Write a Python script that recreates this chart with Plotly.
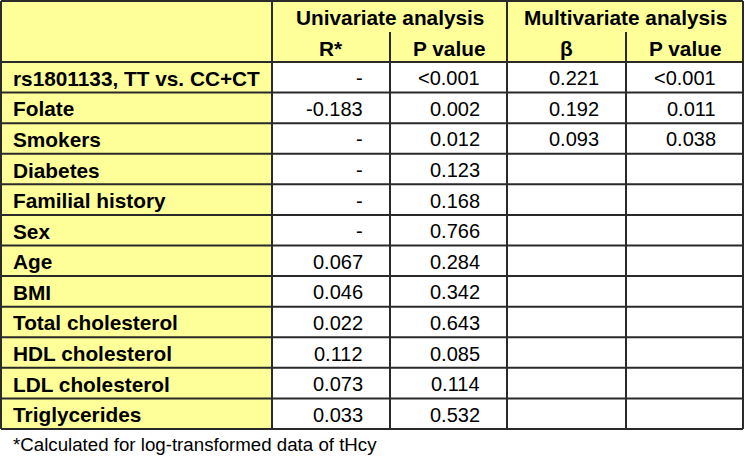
import plotly.graph_objects as go

# ---- data ----
variables = ["rs1801133, TT vs. CC+CT", "Folate", "Smokers", "Diabetes", "Familial history",
             "Sex", "Age", "BMI", "Total cholesterol", "HDL cholesterol", "LDL cholesterol",
             "Triglycerides"]
uni_r = ["-", "-0.183", "-", "-", "-", "-", "0.067", "0.046", "0.022", "0.112", "0.073", "0.033"]
uni_p = ["<0.001", "0.002", "0.012", "0.123", "0.168", "0.766", "0.284", "0.342", "0.643",
         "0.085", "0.114", "0.532"]
multi_beta = ["0.221", "0.192", "0.093", "", "", "", "", "", "", "", "", ""]
multi_p = ["<0.001", "0.011", "0.038", "", "", "", "", "", "", "", "", ""]
group_headers = ["Univariate analysis", "Multivariate analysis"]
sub_headers = ["R*", "P value", "β", "P value"]
footnote = "*Calculated for log-transformed data of tHcy"

# ---- layout geometry (pixel-like coordinates) ----
W, H = 745, 456
col_edges = [1, 272, 390, 507, 626, 743]
top, mid, data_top, bottom = 1, 32, 62, 429
n = len(variables)
row_h = (bottom - data_top) / n
row_edges = [data_top + i * row_h for i in range(n + 1)]

YELLOW = "#FFFF99"
LINE = "#2a2a2a"
FONT = "Liberation Sans, Arial, sans-serif"
FS = 20
FSB = 20.8
PAD = 25

fig = go.Figure()
fig.add_trace(go.Scatter(x=[0, W], y=[0, H], mode="markers", marker=dict(opacity=0),
                         hoverinfo="skip", showlegend=False))

shapes = []
# fills
shapes.append(dict(type="rect", x0=col_edges[0], x1=col_edges[-1], y0=top, y1=data_top,
                   fillcolor=YELLOW, line=dict(width=0), layer="below"))
shapes.append(dict(type="rect", x0=col_edges[0], x1=col_edges[1], y0=data_top, y1=bottom,
                   fillcolor=YELLOW, line=dict(width=0), layer="below"))
# horizontal lines
for y in [top] + row_edges:
    shapes.append(dict(type="line", x0=col_edges[0], x1=col_edges[-1], y0=y, y1=y,
                       line=dict(color=LINE, width=2)))
# vertical lines
for i, x in enumerate(col_edges):
    y0 = mid if i in (2, 4) else top
    shapes.append(dict(type="line", x0=x, x1=x, y0=y0, y1=bottom,
                       line=dict(color=LINE, width=2)))

ann = []
def txt(x, y, s, anchor, bold=False, size=FS):
    ann.append(dict(x=x, y=y, xref="x", yref="y", text=(f"<b>{s}</b>" if bold else s),
                    showarrow=False, xanchor=anchor, yanchor="middle",
                    font=dict(family=FONT, size=size, color="black")))

# group headers
for g, (a, b) in zip(group_headers, [(1, 3), (3, 5)]):
    txt((col_edges[a] + col_edges[b]) / 2, (top + mid) / 2 + 1, g, "center", True, FSB)
# sub headers
for j, s in enumerate(sub_headers):
    txt((col_edges[j + 1] + col_edges[j + 2]) / 2, (mid + data_top) / 2 + 1, s, "center", True, FSB)

# body
cols = [uni_r, uni_p, multi_beta, multi_p]
for i in range(n):
    yc = (row_edges[i] + row_edges[i + 1]) / 2 + 1
    txt(col_edges[0] + 10, yc, variables[i], "left", True, FSB)
    for j, col in enumerate(cols):
        if col[i]:
            txt(col_edges[j + 2] - PAD, yc, col[i], "right")

txt(11, 444, footnote, "left", False, 18.7)

fig.update_layout(
    width=W, height=H, margin=dict(l=0, r=0, t=0, b=0),
    paper_bgcolor="white", plot_bgcolor="white",
    xaxis=dict(range=[0, W], visible=False, fixedrange=True),
    yaxis=dict(range=[H, 0], visible=False, fixedrange=True),
    shapes=shapes, annotations=ann, showlegend=False,
)
fig.write_html("out.html", config={"displayModeBar": False},
               post_script="document.body.style.margin='0px';document.body.style.overflow='hidden';")
